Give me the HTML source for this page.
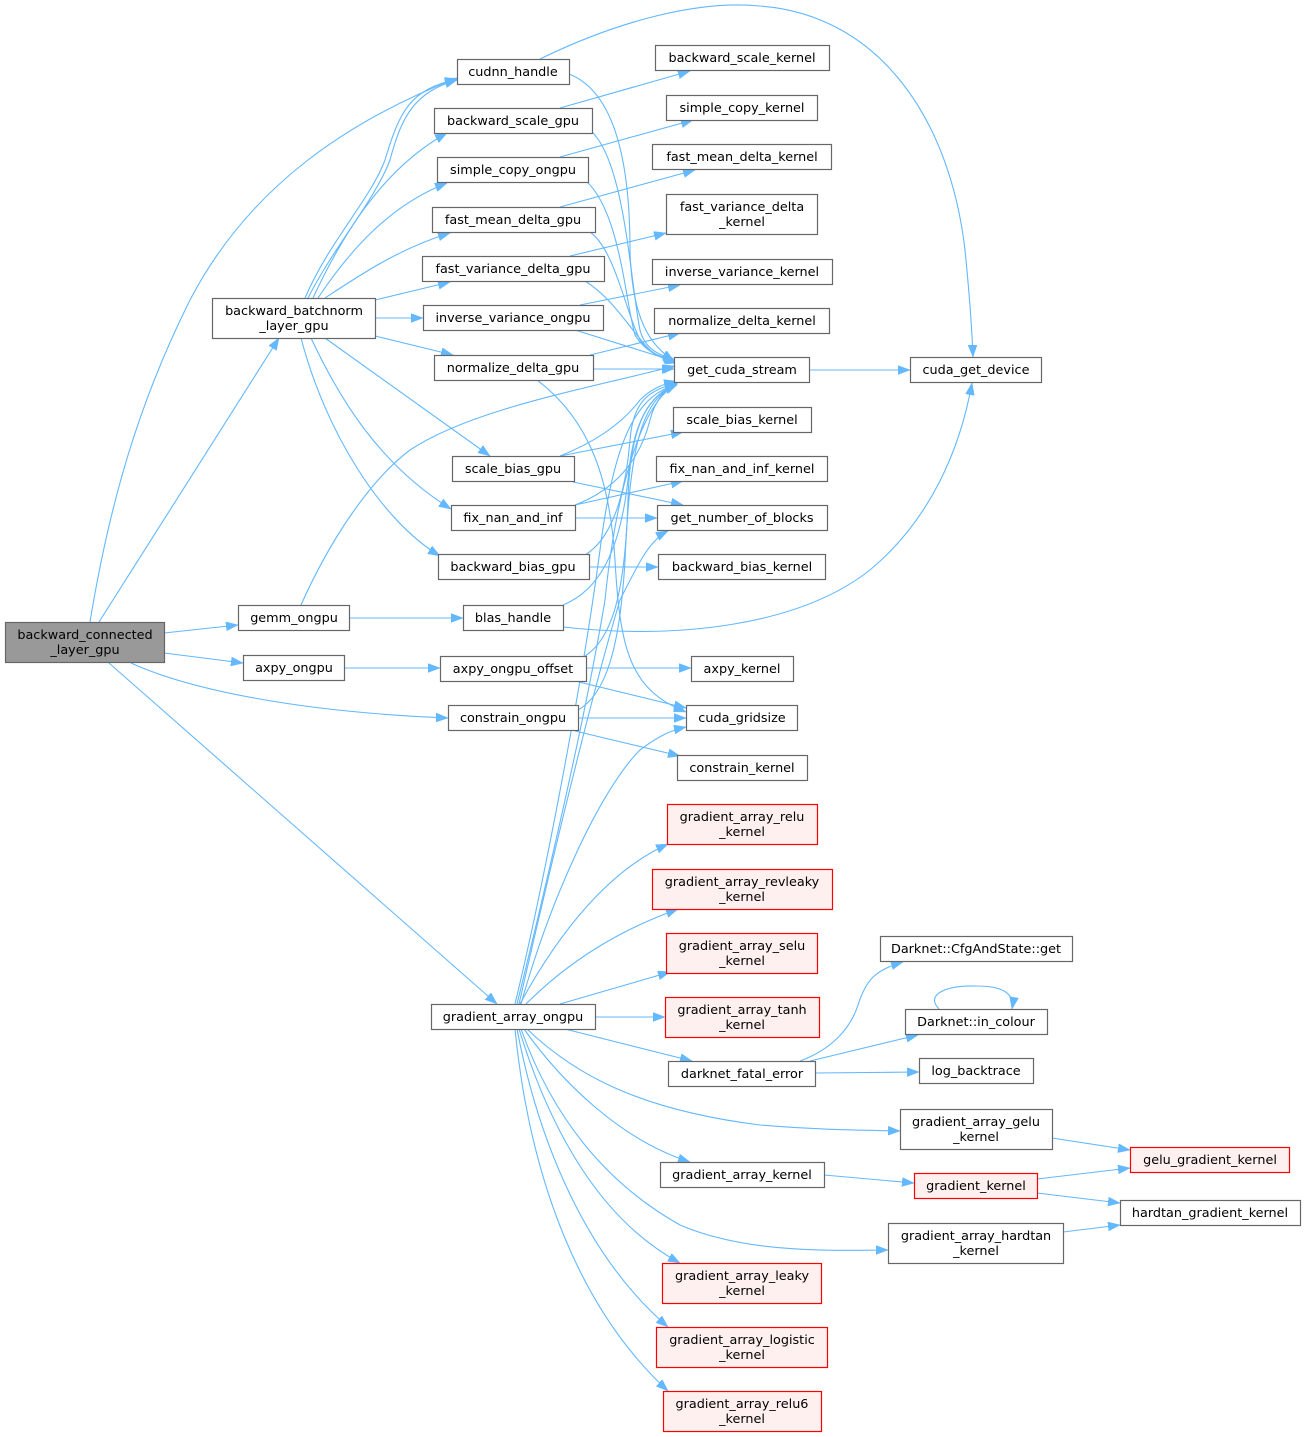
<!DOCTYPE html>
<html><head><meta charset="utf-8"><style>
html,body{margin:0;padding:0;background:#fff;}
svg{display:block;}
text{font-family:"DejaVu Sans","Liberation Sans",sans-serif;font-size:12.8px;fill:#000;text-anchor:middle;}
.n{fill:#fff;stroke:#666;stroke-width:1.2;}
.r{fill:#fff0f0;stroke:#ff0000;stroke-width:1.2;}
.g{fill:#999;stroke:#666;stroke-width:1.2;}
.e{fill:none;stroke:#63b8ff;stroke-width:1.1;marker-end:url(#a);}
</style></head><body>
<svg width="1305" height="1437" viewBox="0 0 1305 1437" xmlns="http://www.w3.org/2000/svg">
<defs><marker id="a" markerUnits="userSpaceOnUse" markerWidth="13" markerHeight="10" refX="12" refY="4.5" orient="auto"><path d="M0,0 L12,4.5 L0,9 z" fill="#63b8ff" stroke="#63b8ff" stroke-width="0.5"/></marker></defs>

<!-- edges -->
<path class="e" d="M90,622 C110,500 140,400 190,300 C250,185 350,120 457,78"/>
<path class="e" d="M99,622 L279,338"/>
<path class="e" d="M164,633 L238,625"/>
<path class="e" d="M164,653 L243,663"/>
<path class="e" d="M131,663 C190,690 300,712 448,718"/>
<path class="e" d="M109,663 L497,1004"/>

<path class="e" d="M305,298 C330,240 370,200 385,160 C400,110 410,90 457,79"/>
<path class="e" d="M308,298 C335,245 375,200 390,160 C402,115 415,92 457,80"/>
<path class="e" d="M313,298 C340,240 380,170 447,133"/>
<path class="e" d="M318,298 C350,250 390,205 447,183"/>
<path class="e" d="M325,298 C360,275 400,248 450,233"/>
<path class="e" d="M375,300 L450,282"/>
<path class="e" d="M375,318 L423,318"/>
<path class="e" d="M375,336 L453,355"/>
<path class="e" d="M325,338 L490,456"/>
<path class="e" d="M311,338 C340,400 380,465 451,509"/>
<path class="e" d="M301,338 C325,430 380,520 440,556"/>

<path class="e" d="M569,74 C610,90 630,150 630,250 C632,320 650,345 674,361"/>
<path class="e" d="M540,59 C620,20 700,0 760,6 C880,15 950,120 965,250 C970,300 972,330 973,357"/>
<path class="e" d="M560,108 L690,71"/>
<path class="e" d="M590,130 C625,160 630,280 640,330 C645,350 660,355 675,360"/>
<path class="e" d="M560,157 L693,120"/>
<path class="e" d="M585,180 C620,210 625,300 635,335 C645,352 660,357 676,361"/>
<path class="e" d="M560,207 L695,170"/>
<path class="e" d="M590,232 C615,250 625,310 640,340 C650,355 662,358 677,362"/>
<path class="e" d="M570,256 L666,233"/>
<path class="e" d="M585,281 C615,300 630,330 650,350 C660,358 668,360 678,363"/>
<path class="e" d="M580,305 L680,285"/>
<path class="e" d="M575,330 L677,362"/>
<path class="e" d="M590,355 L680,333"/>
<path class="e" d="M593,369 L674,369"/>
<path class="e" d="M537,380 C590,420 610,480 615,560 C620,650 630,690 686,712"/>
<path class="e" d="M809,370 L910,370"/>

<path class="e" d="M560,456 C600,440 625,420 640,400 C650,390 660,385 676,381"/>
<path class="e" d="M560,456 L683,432"/>
<path class="e" d="M573,482 L683,505"/>
<path class="e" d="M575,505 C615,490 640,460 650,420 C655,400 665,390 677,382"/>
<path class="e" d="M575,505 L683,481"/>
<path class="e" d="M575,518 L657,518"/>
<path class="e" d="M585,555 C610,540 625,500 630,440 C633,400 650,390 677,383"/>
<path class="e" d="M589,567 L658,567"/>
<path class="e" d="M301,605 C330,540 370,480 410,450 C470,410 580,390 675,366"/>
<path class="e" d="M349,618 L463,618"/>
<path class="e" d="M563,605 C600,590 620,550 628,480 C633,420 650,395 677,383"/>
<path class="e" d="M563,627 C680,640 800,625 870,570 C930,520 960,450 972,383"/>
<path class="e" d="M344,668 L440,668"/>
<path class="e" d="M585,656 C610,640 625,600 628,500 C630,420 650,395 677,384"/>
<path class="e" d="M586,668 L691,668"/>
<path class="e" d="M575,681 L686,708"/>
<path class="e" d="M578,710 C605,695 620,650 625,560 C630,450 640,400 677,384"/>
<path class="e" d="M578,718 L686,718"/>
<path class="e" d="M575,731 L680,756"/>

<path class="e" d="M515,1004 C540,900 580,700 600,550 C615,430 640,395 677,384"/>
<path class="e" d="M517,1004 C545,890 585,720 605,600 C615,500 640,400 677,385"/>
<path class="e" d="M519,1004 C545,890 590,700 620,600 C640,560 650,540 668,531"/>
<path class="e" d="M521,1004 C550,900 600,790 640,750 C660,735 672,730 686,727"/>
<path class="e" d="M520,1004 C560,930 610,870 668,844"/>
<path class="e" d="M526,1004 C570,960 620,930 678,909"/>
<path class="e" d="M560,1004 L670,972"/>
<path class="e" d="M595,1017 L665,1017"/>
<path class="e" d="M565,1029 L692,1061"/>
<path class="e" d="M527,1029 C575,1075 640,1110 760,1125 C820,1130 860,1130 900,1131"/>
<path class="e" d="M524,1029 C560,1080 620,1140 690,1162"/>
<path class="e" d="M521,1029 C550,1110 600,1180 680,1225 C750,1255 840,1250 888,1250"/>
<path class="e" d="M519,1029 C550,1130 600,1220 680,1263"/>
<path class="e" d="M517,1029 C540,1150 590,1260 668,1327"/>
<path class="e" d="M515,1029 C530,1180 580,1310 668,1391"/>

<path class="e" d="M800,1061 C830,1050 850,1030 858,1005 C866,980 875,970 903,962"/>
<path class="e" d="M810,1061 L918,1035"/>
<path class="e" d="M815,1073 L919,1072"/>
<path class="e" d="M939,1009 C925,995 945,985 977,986 C1000,986 1015,992 1012,1009"/>
<path class="e" d="M1052,1138 L1130,1150"/>
<path class="e" d="M824,1175 L914,1183"/>
<path class="e" d="M1037,1179 L1130,1168"/>
<path class="e" d="M1037,1193 L1120,1203"/>
<path class="e" d="M1063,1232 L1120,1225"/>

<!-- nodes -->
<rect class="g" x="5.5" y="622.5" width="159" height="40"/><text x="85" y="639">backward_connected</text><text x="85" y="654">_layer_gpu</text>
<rect class="n" x="457.5" y="59.5" width="112" height="25"/><text x="513" y="76">cudnn_handle</text>
<rect class="n" x="434.5" y="108.5" width="158" height="25"/><text x="513" y="125">backward_scale_gpu</text>
<rect class="n" x="437.5" y="157.5" width="151" height="25"/><text x="513" y="174">simple_copy_ongpu</text>
<rect class="n" x="432.5" y="207.5" width="163" height="25"/><text x="513" y="224">fast_mean_delta_gpu</text>
<rect class="n" x="422.5" y="256.5" width="182" height="25"/><text x="513" y="273">fast_variance_delta_gpu</text>
<rect class="n" x="423.5" y="305.5" width="180" height="25"/><text x="513" y="322">inverse_variance_ongpu</text>
<rect class="n" x="434.5" y="355.5" width="159" height="25"/><text x="513" y="372">normalize_delta_gpu</text>
<rect class="n" x="212.5" y="298.5" width="163" height="40"/><text x="294" y="315">backward_batchnorm</text><text x="294" y="330">_layer_gpu</text>
<rect class="n" x="452.5" y="456.5" width="122" height="25"/><text x="513" y="473">scale_bias_gpu</text>
<rect class="n" x="451.5" y="505.5" width="124" height="25"/><text x="513" y="522">fix_nan_and_inf</text>
<rect class="n" x="438.5" y="554.5" width="151" height="25"/><text x="513" y="571">backward_bias_gpu</text>
<rect class="n" x="238.5" y="605.5" width="111" height="25"/><text x="294" y="622">gemm_ongpu</text>
<rect class="n" x="463.5" y="605.5" width="100" height="25"/><text x="513" y="622">blas_handle</text>
<rect class="n" x="243.5" y="655.5" width="101" height="25"/><text x="294" y="672">axpy_ongpu</text>
<rect class="n" x="440.5" y="656.5" width="146" height="25"/><text x="513" y="673">axpy_ongpu_offset</text>
<rect class="n" x="448.5" y="705.5" width="130" height="25"/><text x="513" y="722">constrain_ongpu</text>
<rect class="n" x="431.5" y="1004.5" width="164" height="25"/><text x="513" y="1021">gradient_array_ongpu</text>

<rect class="n" x="655.5" y="45.5" width="174" height="25"/><text x="742" y="62">backward_scale_kernel</text>
<rect class="n" x="666.5" y="95.5" width="151" height="25"/><text x="742" y="112">simple_copy_kernel</text>
<rect class="n" x="652.5" y="144.5" width="179" height="25"/><text x="742" y="161">fast_mean_delta_kernel</text>
<rect class="n" x="666.5" y="194.5" width="151" height="40"/><text x="742" y="211">fast_variance_delta</text><text x="742" y="226">_kernel</text>
<rect class="n" x="652.5" y="259.5" width="180" height="25"/><text x="742" y="276">inverse_variance_kernel</text>
<rect class="n" x="654.5" y="308.5" width="175" height="25"/><text x="742" y="325">normalize_delta_kernel</text>
<rect class="n" x="674.5" y="357.5" width="135" height="25"/><text x="742" y="374">get_cuda_stream</text>
<rect class="n" x="910.5" y="357.5" width="131" height="25"/><text x="976" y="374">cuda_get_device</text>
<rect class="n" x="673.5" y="407.5" width="138" height="25"/><text x="742" y="424">scale_bias_kernel</text>
<rect class="n" x="656.5" y="456.5" width="171" height="25"/><text x="742" y="473">fix_nan_and_inf_kernel</text>
<rect class="n" x="657.5" y="505.5" width="170" height="25"/><text x="742" y="522">get_number_of_blocks</text>
<rect class="n" x="658.5" y="554.5" width="167" height="25"/><text x="742" y="571">backward_bias_kernel</text>
<rect class="n" x="691.5" y="656.5" width="102" height="25"/><text x="742" y="673">axpy_kernel</text>
<rect class="n" x="686.5" y="705.5" width="111" height="25"/><text x="742" y="722">cuda_gridsize</text>
<rect class="n" x="677.5" y="755.5" width="130" height="25"/><text x="742" y="772">constrain_kernel</text>
<rect class="r" x="667.5" y="804.5" width="150" height="40"/><text x="742" y="821">gradient_array_relu</text><text x="742" y="836">_kernel</text>
<rect class="r" x="652.5" y="869.5" width="180" height="40"/><text x="742" y="886">gradient_array_revleaky</text><text x="742" y="901">_kernel</text>
<rect class="r" x="666.5" y="933.5" width="151" height="40"/><text x="742" y="950">gradient_array_selu</text><text x="742" y="965">_kernel</text>
<rect class="r" x="665.5" y="997.5" width="154" height="40"/><text x="742" y="1014">gradient_array_tanh</text><text x="742" y="1029">_kernel</text>
<rect class="n" x="668.5" y="1061.5" width="147" height="25"/><text x="742" y="1078">darknet_fatal_error</text>
<rect class="n" x="660.5" y="1162.5" width="164" height="25"/><text x="742" y="1179">gradient_array_kernel</text>
<rect class="r" x="662.5" y="1263.5" width="159" height="40"/><text x="742" y="1280">gradient_array_leaky</text><text x="742" y="1295">_kernel</text>
<rect class="r" x="656.5" y="1327.5" width="171" height="40"/><text x="742" y="1344">gradient_array_logistic</text><text x="742" y="1359">_kernel</text>
<rect class="r" x="663.5" y="1391.5" width="158" height="40"/><text x="742" y="1408">gradient_array_relu6</text><text x="742" y="1423">_kernel</text>

<rect class="n" x="880.5" y="936.5" width="192" height="25"/><text x="976" y="953">Darknet::CfgAndState::get</text>
<rect class="n" x="905.5" y="1009.5" width="142" height="25"/><text x="976" y="1026">Darknet::in_colour</text>
<rect class="n" x="919.5" y="1058.5" width="114" height="25"/><text x="976" y="1075">log_backtrace</text>
<rect class="n" x="900.5" y="1109.5" width="152" height="40"/><text x="976" y="1126">gradient_array_gelu</text><text x="976" y="1141">_kernel</text>
<rect class="r" x="914.5" y="1173.5" width="123" height="25"/><text x="976" y="1190">gradient_kernel</text>
<rect class="n" x="888.5" y="1223.5" width="175" height="40"/><text x="976" y="1240">gradient_array_hardtan</text><text x="976" y="1255">_kernel</text>
<rect class="r" x="1130.5" y="1147.5" width="159" height="25"/><text x="1210" y="1164">gelu_gradient_kernel</text>
<rect class="n" x="1120.5" y="1200.5" width="180" height="25"/><text x="1210" y="1217">hardtan_gradient_kernel</text>
</svg>
</body></html>
